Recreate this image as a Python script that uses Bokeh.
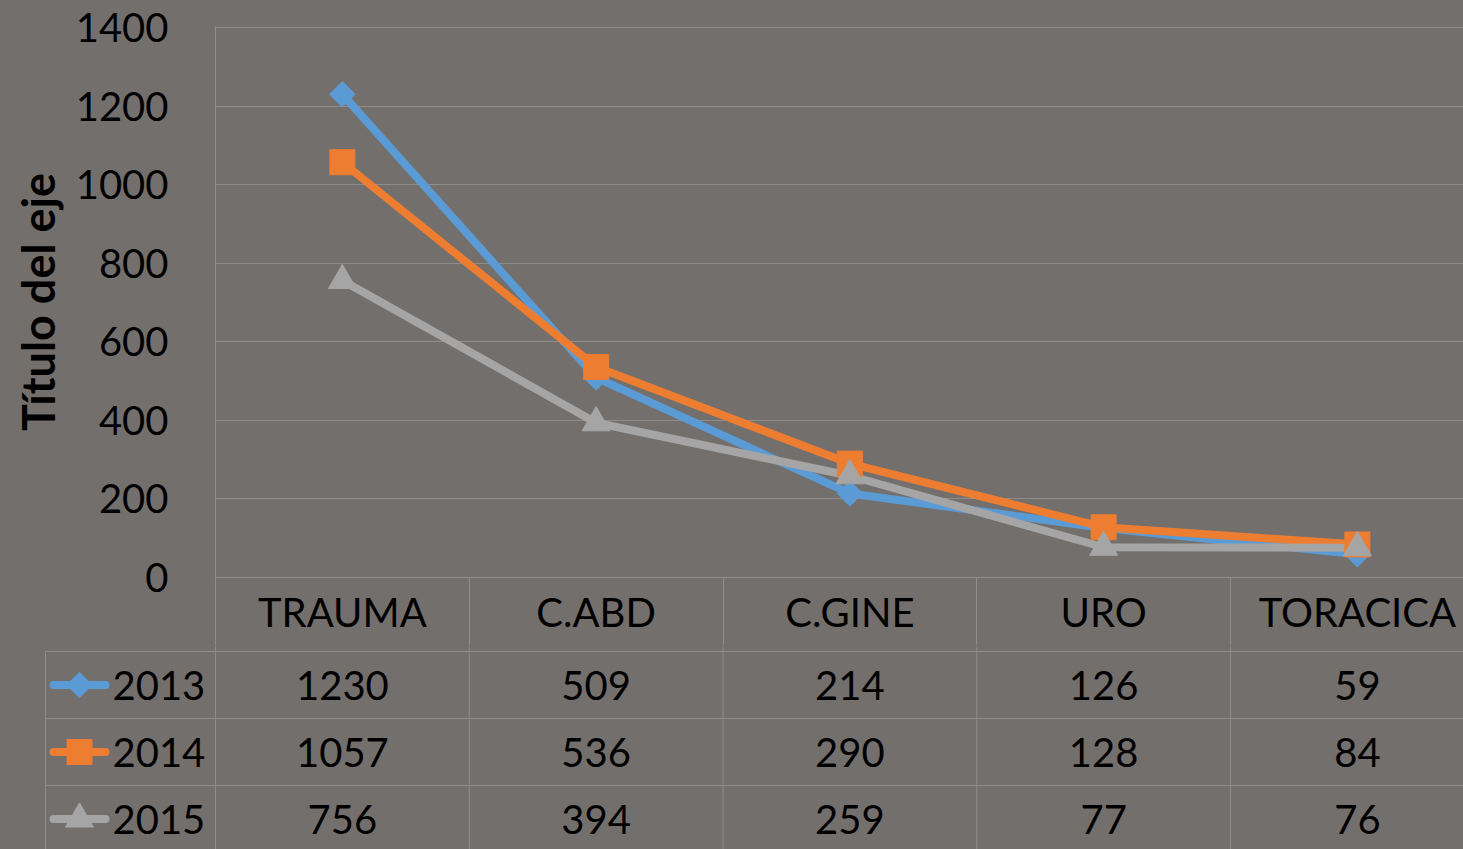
import numpy as np
from bokeh.plotting import figure
from bokeh.models import Range1d, FixedTicker, GlobalInlineStyleSheet
from bokeh.layouts import column
from bokeh.embed import file_html
from bokeh.resources import INLINE
from bokeh.core.properties import value

# ---------------- data ----------------
categories = ["TRAUMA", "C.ABD", "C.GINE", "URO", "TORACICA"]
years = ["2013", "2014", "2015"]
v2013 = [1230, 509, 214, 126, 59]
v2014 = [1057, 536, 290, 128, 84]
v2015 = [756, 394, 259, 77, 76]
y_ticks = [0, 200, 400, 600, 800, 1000, 1200, 1400]
axis_title = "Título del eje"

series = [v2013, v2014, v2015]
colors = ["#5B9BD5", "#ED7D31", "#A5A5A5"]
marker_kinds = ["square", "square", "triangle"]
marker_angles = [np.pi / 4, 0.0, 0.0]
marker_sizes = [18, 25, 28]

# ---------------- style / layout ----------------
BG = "#736f6d"
GRID = "#908c8a"
FONT = "Lato"
FS = "40px"
W = 1463
H = 849
LEFT = 215          # frame left (px)
COL = 253.75        # px per category
FRAME_W = W - LEFT
TOP = 26
PLOT_H = 551
Y_MAX = 1400 * PLOT_H / 550.0
HEAD_H = 68
H1 = TOP + PLOT_H + HEAD_H
H2 = H - H1
ROW = 67.0
ROW_TOP = 6.0


def dx(px):
    return -0.5 + (px - LEFT) / COL


xs = list(range(len(categories)))
x_end = -0.5 + FRAME_W / COL

# ---------------- chart figure ----------------
p1 = figure(width=W, height=H1, output_backend="svg", toolbar_location=None,
            x_range=Range1d(-0.5, x_end), y_range=Range1d(0, Y_MAX),
            min_border_left=LEFT, min_border_top=TOP, min_border_bottom=HEAD_H,
            min_border_right=0)
p1.background_fill_color = BG
p1.border_fill_color = BG
p1.outline_line_color = None

yax = p1.yaxis[0]
yax.ticker = FixedTicker(ticks=y_ticks)
yax.major_tick_out = 0
yax.major_tick_in = 0
yax.minor_tick_out = 0
yax.minor_tick_in = 0
yax.axis_line_color = GRID
yax.major_label_standoff = 47
yax.major_label_text_font = FONT
yax.major_label_text_font_size = FS
yax.major_label_text_color = "#000000"
yax.axis_label = axis_title
yax.axis_label_text_font = FONT
yax.axis_label_text_font_style = "bold"
yax.axis_label_text_font_size = "45px"
yax.axis_label_text_color = "#000000"
yax.axis_label_standoff = 8

xax = p1.xaxis[0]
xax.ticker = FixedTicker(ticks=xs, minor_ticks=[i - 0.5 for i in range(len(categories) + 1)])
xax.major_label_overrides = {i: c for i, c in enumerate(categories)}
xax.major_tick_out = 0
xax.major_tick_in = 0
xax.minor_tick_out = HEAD_H
xax.minor_tick_in = 0
xax.minor_tick_line_color = GRID
xax.axis_line_color = GRID
xax.major_label_standoff = -58
xax.major_label_text_font = FONT
xax.major_label_text_font_size = FS
xax.major_label_text_color = "#000000"

p1.xgrid.visible = False
p1.ygrid.ticker = FixedTicker(ticks=y_ticks)
p1.ygrid.grid_line_color = GRID

for vals, c in zip(series, colors):
    p1.line(xs, vals, line_color=c, line_width=8, line_join="round")
for vals, c, m, a, s in zip(series, colors, marker_kinds, marker_angles, marker_sizes):
    p1.scatter(xs, vals, marker=m, angle=a, size=s, fill_color=c, line_color=c)

# ---------------- table figure ----------------
p2 = figure(width=W, height=H2, output_backend="svg", toolbar_location=None,
            x_range=Range1d(dx(0), x_end),
            y_range=Range1d((H2 - ROW_TOP) / ROW, -ROW_TOP / ROW),
            x_axis_location=None, y_axis_location=None,
            min_border=0, min_border_left=0, min_border_right=0,
            min_border_top=0, min_border_bottom=0)
p2.background_fill_color = BG
p2.border_fill_color = BG
p2.outline_line_color = None
p2.grid.visible = False

for p in (p1, p2):
    if "frame_align" in p.properties():
        p.frame_align = False

table_left = dx(45)
y_bottom = (H2 - ROW_TOP) / ROW
nrows = len(years)
# horizontal row lines
p2.segment(x0=[table_left] * nrows, y0=list(range(nrows)),
           x1=[x_end] * nrows, y1=list(range(nrows)), line_color=GRID, line_width=1)
# vertical column lines (continuing the header separators)
vlines = [i - 0.5 for i in range(len(categories) + 1)]
p2.segment(x0=vlines, y0=[-ROW_TOP / ROW] * len(vlines), x1=vlines, y1=[y_bottom] * len(vlines),
           line_color=GRID, line_width=1)
# table left edge starts at the first row line
p2.segment(x0=[table_left], y0=[0], x1=[table_left], y1=[y_bottom],
           line_color=GRID, line_width=1)

row_centers = [r + 0.5 for r in range(nrows)]
for r, (vals, c, m, a, s) in enumerate(zip(series, colors, marker_kinds, marker_angles, marker_sizes)):
    yc = r + 0.5
    p2.text(xs, [yc] * len(xs), text=[str(v) for v in vals],
            text_font=value(FONT), text_font_size=FS, text_color="#000000",
            text_align="center", text_baseline="middle")
    p2.line([dx(53), dx(105)], [yc, yc], line_color=c, line_width=8, line_cap="round")
    p2.scatter([dx(79)], [yc], marker=m, angle=a, size=s, fill_color=c, line_color=c)

p2.text([dx(112)] * nrows, row_centers, text=years,
        text_font=value(FONT), text_font_size=FS, text_color="#000000",
        text_align="left", text_baseline="middle")

layout = column(p1, p2, spacing=0,
                stylesheets=[GlobalInlineStyleSheet(css="body { background-color: #736f6d; }")])

open("out.html", "w").write(file_html(layout, INLINE))
